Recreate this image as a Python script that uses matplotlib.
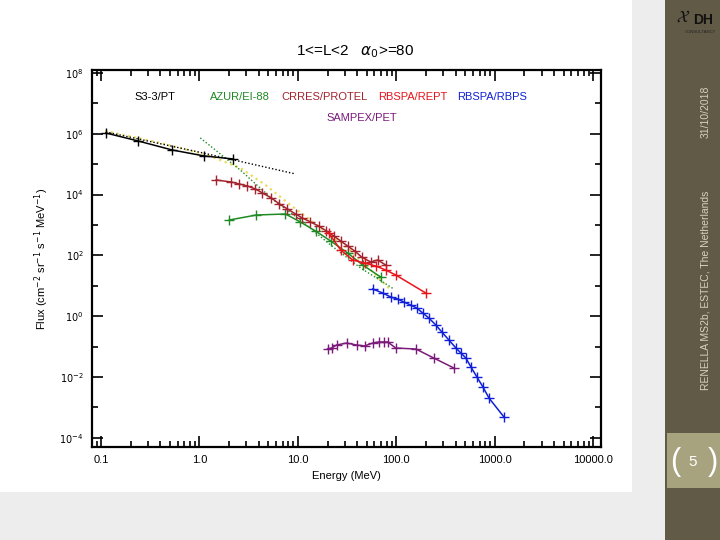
import matplotlib
matplotlib.use("Agg")
import matplotlib.pyplot as plt
from matplotlib.patches import Rectangle
from matplotlib.ticker import FixedLocator, NullFormatter

plt.rcParams["font.family"] = ["Liberation Sans", "DejaVu Sans"]

# S3-3/PT
s33_e = [0.112, 0.238, 0.528, 1.12, 2.21]
s33_f = [1.06e6, 5.8e5, 2.93e5, 1.86e5, 1.48e5]
s33_fit_e = [0.112, 1.09, 9.47]
s33_fit_f = [1.15e6, 2.33e5, 4.76e4]

# AZUR/EI-88
azur_e = [2.01, 3.79, 7.48, 10.6, 15.1, 21.5, 32.0, 45.5, 69.3]
azur_f = [1460, 2130, 2300, 1255, 635, 298, 120, 48.3, 19.5]
azur_fit_e = [1.02, 2.60, 5.65, 10.6, 21.5, 43.4, 94.2]
azur_fit_f = [7.3e5, 6.4e4, 6.6e3, 1.46e3, 220, 38.5, 7.85]

# combined fit (yellow dotted)
yel_e = [0.11, 0.40, 1.20, 2.60, 4.68, 8.41, 17.0, 34.3, 87.8]
yel_f = [1.24e6, 4.98e5, 2.01e5, 7.5e4, 2.07e4, 4.55e3, 796, 151, 7.3]

# CRRES/PROTEL
crres_e = [1.48, 2.11, 2.54, 3.07, 3.70, 4.36, 5.38, 6.50, 7.84, 9.46, 11.1,
           13.4, 16.2, 19.5, 23.1, 27.2, 32.0, 37.7, 44.4, 54.9, 64.7, 78.0]
crres_f = [3.02e4, 2.59e4, 2.23e4, 1.92e4, 1.53e4, 1.13e4, 7.73e3, 4.91e3,
           3.36e3, 2.30e3, 1.70e3, 1.26e3, 927, 635, 435, 298, 204, 140,
           88.5, 60.7, 70.6, 48.3]

# RBSPA/REPT
rept_e = [20.5, 27.2, 36.0, 47.6, 61.7, 78.0, 98.6, 199]
rept_f = [546, 151, 70.6, 56.2, 44.8, 33.1, 22.7, 5.80]

# RBSPA/RBPS
rbps_e = [57.5, 72.7, 87.7, 103, 119, 140, 161, 186, 214, 252, 290, 342, 403,
          453, 509, 573, 659, 759, 873, 1241]
rbps_f = [7.85, 5.80, 4.28, 3.68, 2.93, 2.33, 1.86, 1.27, 0.873, 0.514, 0.302,
          0.165, 0.090, 0.0615, 0.0422, 0.0213, 0.0100, 0.00469, 0.00204,
          0.000483]

# SAMPEX/PET
sampex_e = [20.0, 22.0, 24.7, 31.3, 39.5, 47.6, 57.5, 66.2, 74.5, 81.7, 98.6,
            158, 240, 384]
sampex_f = [0.0834, 0.090, 0.113, 0.131, 0.113, 0.105, 0.131, 0.142, 0.142,
            0.142, 0.090, 0.0834, 0.0422, 0.0198]

x_ticks = [0.1, 1.0, 10.0, 100.0, 1000.0, 10000.0]
x_labels = ["0.1", "1.0", "10.0", "100.0", "1000.0", "10000.0"]
y_ticks = [1e-4, 1e-2, 1e0, 1e2, 1e4, 1e6, 1e8]
y_labels = [r"$10^{-4}$", r"$10^{-2}$", r"$10^{0}$", r"$10^{2}$", r"$10^{4}$",
            r"$10^{6}$", r"$10^{8}$"]

legend_items = [
    ("S3-3/PT", "black", 155, 97),
    ("AZUR/EI-88", "#1f8a24", 240, 97),
    ("CRRES/PROTEL", "#a3232e", 325, 97),
    ("RBSPA/REPT", "#e8141b", 413, 97),
    ("RBSPA/RBPS", "#1020d8", 492, 97),
    ("SAMPEX/PET", "#7b1a7b", 362, 118),
]

W, H = 720, 540
fig = plt.figure(figsize=(7.2, 5.4), dpi=100)
fig.patch.set_facecolor("white")

# slide background pieces
fig.add_artist(Rectangle((0, 0), 665 / W, 48 / H, transform=fig.transFigure,
                         facecolor="#ededed", edgecolor="none", zorder=0))
fig.add_artist(Rectangle((632 / W, 0), 33 / W, 1, transform=fig.transFigure,
                         facecolor="#ededed", edgecolor="none", zorder=0))
fig.add_artist(Rectangle((40 / W, 48 / H), 592 / W, 450 / H, transform=fig.transFigure,
                         facecolor="white", edgecolor="none", zorder=0))
# right sidebar
fig.add_artist(Rectangle((665 / W, 0), 55 / W, 1, transform=fig.transFigure,
                         facecolor="#605a46", edgecolor="none", zorder=0))
fig.add_artist(Rectangle((667 / W, 1 - 488 / H), 53 / W, 55 / H, transform=fig.transFigure,
                         facecolor="#a6a37e", edgecolor="none", zorder=1))
fig.text(675 / W, 1 - 462 / H, "(", color="white", fontsize=22, ha="center", va="center")
fig.text(713 / W, 1 - 462 / H, ")", color="white", fontsize=22, ha="center", va="center")
fig.text(693 / W, 1 - 462 / H, "5", color="white", fontsize=11, ha="center", va="center")
fig.text(706 / W, 1 - 112 / H, "31/10/2018", color="#d6d3bf", fontsize=7.5,
         rotation=90, ha="center", va="center")
fig.text(706 / W, 1 - 290 / H, "RENELLA MS2b, ESTEC, The Netherlands", color="#d6d3bf",
         fontsize=7.5, rotation=90, ha="center", va="center")
fig.text(683 / W, 1 - 17 / H, r"$\mathcal{X}$", color="#111111", fontsize=12,
         ha="center", va="center")
fig.text(703 / W, 1 - 20 / H, "DH", color="#111111", fontsize=10,
         fontweight="bold", ha="center", va="center")
fig.text(700 / W, 1 - 32 / H, "CONSULTANCY", color="#222222", fontsize=3,
         ha="center", va="center")

ax = fig.add_axes([92 / W, 1 - 447 / H, 509 / W, 377 / H])
ax.set_xscale("log")
ax.set_yscale("log")
ax.set_xlim(0.081, 12000)
ax.set_ylim(5e-5, 1.25e8)

ax.plot(yel_e, yel_f, color="#e8dc5a", linestyle=":", linewidth=1.6, zorder=2)
ax.plot(s33_fit_e, s33_fit_f, color="black", linestyle=(0, (1, 1.5)), linewidth=1.0, zorder=2)
ax.plot(azur_fit_e, azur_fit_f, color="#1f8a24", linestyle=(0, (1, 1.5)), linewidth=1.0, zorder=2)

mk = dict(marker="+", markersize=7, markeredgewidth=1.0, linewidth=1.1, zorder=3)
ax.plot(s33_e, s33_f, color="black", **mk)
ax.plot(azur_e, azur_f, color="#1f8a24", **mk)
ax.plot(crres_e, crres_f, color="#a3232e", **mk)
ax.plot(rept_e, rept_f, color="#e8141b", **mk)
ax.plot(rbps_e, rbps_f, color="#1020d8", **mk)
ax.plot(sampex_e, sampex_f, color="#7b1a7b", **mk)

ax.xaxis.set_major_locator(FixedLocator(x_ticks))
ax.set_xticklabels(x_labels, fontsize=8)
minor_x = [m * 10.0 ** k for k in range(-2, 5) for m in range(2, 10)]
ax.xaxis.set_minor_locator(FixedLocator(minor_x))
ax.xaxis.set_minor_formatter(NullFormatter())
ax.yaxis.set_major_locator(FixedLocator(y_ticks))
ax.set_yticklabels(y_labels, fontsize=7)
ax.yaxis.set_minor_locator(FixedLocator([1e-3, 1e-1, 1e1, 1e3, 1e5, 1e7]))
ax.yaxis.set_minor_formatter(NullFormatter())
ax.tick_params(which="both", direction="in", top=True, right=True, width=1.2)
ax.tick_params(which="major", length=8, pad=6)
ax.tick_params(which="minor", length=4)
for sp in ax.spines.values():
    sp.set_linewidth(1.6)

ax.set_xlabel("Energy (MeV)", fontsize=8, labelpad=4)
ax.set_ylabel(r"Flux (cm$^{-2}$ sr$^{-1}$ s$^{-1}$ MeV$^{-1}$)", fontsize=8, labelpad=6)

fig.text(355 / W, 1 - 52 / H, r"1<=L<2   $\alpha_0$>=80", fontsize=11,
         ha="center", va="center")
for label, col, px, py in legend_items:
    fig.text(px / W, 1 - py / H, label, color=col, fontsize=8, ha="center", va="center")

fig.savefig("out.png", dpi=100)
